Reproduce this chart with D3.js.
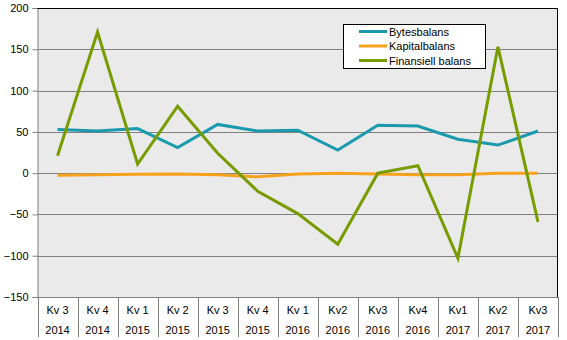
<!DOCTYPE html>
<html><head><meta charset="utf-8">
<script src="https://cdn.jsdelivr.net/npm/d3@7"></script>
<style>body{margin:0;background:#fff}svg{display:block}text{font-family:"Liberation Sans",Arial,sans-serif;font-size:11px;fill:#000}</style>
</head><body>
<svg id="c" width="567" height="340"></svg>
<script>
const quarters = ["Kv 3","Kv 4","Kv 1","Kv 2","Kv 3","Kv 4","Kv 1","Kv2","Kv3","Kv4","Kv1","Kv2","Kv3"];
const years = ["2014","2014","2015","2015","2015","2015","2016","2016","2016","2016","2017","2017","2017"];
const bytesbalans = [53,51,54,31,59,51,52,28,58,57,41,34,51];
const kapitalbalans = [-2.5,-2,-1.3,-1,-2,-4.5,-1,0,-1,-2,-2,0,0];
const finansiellBalans = [21,171,11,81,24,-22,-49,-86,0,9,-103,153,-59];
const seriesNames = ["Bytesbalans","Kapitalbalans","Finansiell balans"];
const yTicks = [-150,-100,-50,0,50,100,150,200];
const colors = ["#1B9AAE","#F6A21C","#789C00"];

const svg = d3.select("#c");
const L = 37.5, R = 558, T = 8, B = 297;
const idx = d3.range(quarters.length);
const x = d3.scaleBand().domain(idx).range([L, R]);
const y = d3.scaleLinear().domain([-150, 200]).range([B, T]);

svg.append("rect").attr("x", L).attr("y", T).attr("width", R - L).attr("height", B - T).attr("fill", "#EAEAEA");

// gridlines
svg.append("g").selectAll("line").data(yTicks.filter(d => d > -150 && d < 200)).join("line")
  .attr("x1", L).attr("x2", R).attr("y1", d => Math.round(y(d)) + 0.5).attr("y2", d => Math.round(y(d)) + 0.5)
  .attr("stroke", "#808080").attr("stroke-width", 1);

// y axis
const ya = svg.append("g").attr("transform", `translate(${L},0)`)
  .call(d3.axisLeft(y).tickValues(yTicks).tickSize(5).tickPadding(4));
ya.select(".domain").attr("stroke", "#808080");
ya.selectAll(".tick line").attr("stroke", "#808080");
ya.selectAll(".tick text").style("font-size", "11px").attr("fill", "#000").attr("font-family", "Liberation Sans, Arial, sans-serif");

// plot border top/right
svg.append("path").attr("d", `M${L},${T + 0.5}H${R - 0.5}V${B}`).attr("fill", "none").attr("stroke", "#000").attr("stroke-width", 1);
svg.append("line").attr("x1", L).attr("x2", R).attr("y1", B + 0.5).attr("y2", B + 0.5).attr("stroke", "#808080");

// category separators
const seps = idx.map(i => x(i)).concat([R]);
svg.append("g").selectAll("line").data(seps).join("line")
  .attr("x1", d => Math.round(d) + 0.5).attr("x2", d => Math.round(d) + 0.5)
  .attr("y1", B).attr("y2", 337).attr("stroke", "#808080");

// category labels
const cat = svg.append("g");
cat.selectAll("text.q").data(idx).join("text").attr("class", "q")
  .attr("x", i => x(i) + x.bandwidth() / 2).attr("y", 314).attr("text-anchor", "middle").text(i => quarters[i]);
cat.selectAll("text.yr").data(idx).join("text").attr("class", "yr")
  .attr("x", i => x(i) + x.bandwidth() / 2).attr("y", 334).attr("text-anchor", "middle").text(i => years[i]);

// lines
const allSeries = [bytesbalans, kapitalbalans, finansiellBalans];
const line = d3.line().x((d, i) => x(i) + x.bandwidth() / 2).y(d => y(d));
[1, 0, 2].forEach(s => {
  svg.append("path").datum(allSeries[s]).attr("d", line).attr("fill", "none")
    .attr("stroke", colors[s]).attr("stroke-width", 3).attr("stroke-linejoin", "miter");
});

// legend
const lg = svg.append("g");
lg.append("rect").attr("x", 343.5).attr("y", 24.5).attr("width", 142).attr("height", 44).attr("fill", "#fff").attr("stroke", "#000");
const ly = [31.5, 46, 60.5];
seriesNames.forEach((n, i) => {
  lg.append("line").attr("x1", 359).attr("x2", 387).attr("y1", ly[i]).attr("y2", ly[i]).attr("stroke", colors[i]).attr("stroke-width", 3);
  lg.append("text").attr("x", 389).attr("y", ly[i] + 4).text(n);
});
</script>
</body></html>
